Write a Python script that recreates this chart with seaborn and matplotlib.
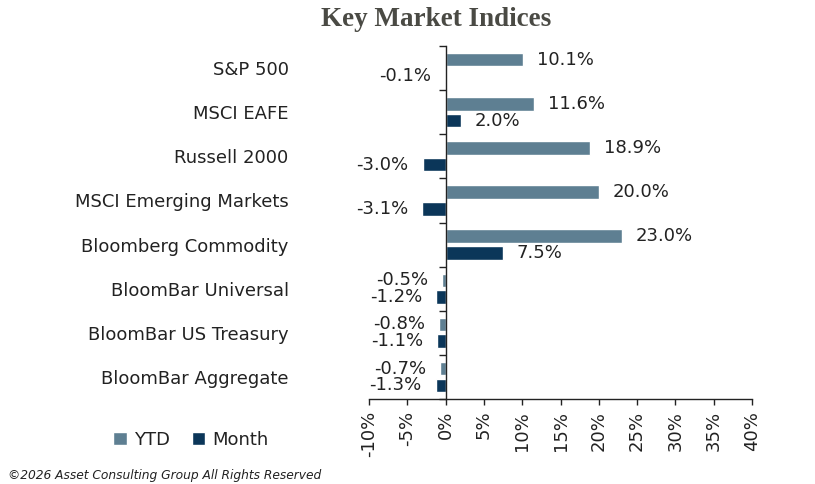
import matplotlib
matplotlib.use("Agg")
import matplotlib.pyplot as plt
import seaborn as sns
import pandas as pd
import numpy as np
from matplotlib.ticker import FuncFormatter, FixedLocator

categories = ["S&P 500", "MSCI EAFE", "Russell 2000", "MSCI Emerging Markets",
              "Bloomberg Commodity", "BloomBar Universal", "BloomBar US Treasury",
              "BloomBar Aggregate"]
ytd = [10.1, 11.6, 18.9, 20.0, 23.0, -0.5, -0.8, -0.7]
month = [-0.1, 2.0, -3.0, -3.1, 7.5, -1.2, -1.1, -1.3]
series_names = ["YTD", "Month"]
x_ticks = [-10, -5, 0, 5, 10, 15, 20, 25, 30, 35, 40]

df = pd.DataFrame({
    "Index": categories * 2,
    "Value": ytd + month,
    "Series": [series_names[0]] * len(categories) + [series_names[1]] * len(categories),
})

sns.set_theme(style="white")
plt.rcParams["font.family"] = ["DejaVu Sans"]

FS = 13
fig = plt.figure(figsize=(8.15, 4.84), dpi=100)
ax = fig.add_axes([369 / 815, 1 - 399 / 484, (752 - 369) / 815, (399 - 46) / 484])

palette = {"YTD": "#5e7f92", "Month": "#0b3659"}
sns.barplot(data=df, y="Index", x="Value", hue="Series", orient="h",
            palette=palette, width=0.76, gap=0.2, ax=ax, saturation=1)

for cont, vals in zip(ax.containers, [ytd, month]):
    ax.bar_label(cont, labels=[f"{v:.1f}%" for v in vals], padding=10,
                 fontsize=FS, color="#222222")

ax.set_xlim(-10, 40)
ax.set_ylim(len(categories) - 0.5, -0.5)
ax.xaxis.set_major_locator(FixedLocator(x_ticks))
ax.xaxis.set_major_formatter(FuncFormatter(lambda v, p: f"{v:.0f}%"))
ax.tick_params(axis="x", labelrotation=90, labelsize=FS, length=4.5, width=1,
               direction="out", colors="#222222", pad=4, bottom=True)
ax.set_xlabel("")
ax.set_ylabel("")

for s in ["top", "right"]:
    ax.spines[s].set_visible(False)
ax.spines["left"].set_position(("data", 0))
ax.spines["left"].set_color("#222222")
ax.spines["bottom"].set_color("#222222")
ax.spines["left"].set_linewidth(1)
ax.spines["bottom"].set_linewidth(1)

ax.set_yticks(np.arange(len(categories)))
ax.set_yticklabels(categories)
ax.tick_params(axis="y", which="major", length=0, pad=113, labelsize=FS,
               labelcolor="#222222")
ax.yaxis.set_minor_locator(FixedLocator(np.arange(-0.5, len(categories), 1.0)))
ax.tick_params(axis="y", which="minor", length=5, width=1, direction="out",
               color="#222222", left=True)

sns.move_legend(ax, loc="center", bbox_to_anchor=(191 / 815, 1 - 440 / 484),
                bbox_transform=fig.transFigure, ncol=2, frameon=False, title=None,
                fontsize=FS, handlelength=0.75, handleheight=0.75,
                handletextpad=0.4, columnspacing=1.2)
for t in ax.get_legend().get_texts():
    t.set_color("#222222")

fig.text(436 / 815, 1 - 20 / 484, "Key Market Indices", ha="center", va="center",
         fontsize=19.5, fontweight="bold", color="#4a4a44",
         family=["Liberation Serif"])
fig.text(8 / 815, 1 - 475 / 484, "©2026 Asset Consulting Group All Rights Reserved",
         ha="left", va="center", fontsize=8.8, style="italic", color="#222222")

fig.savefig("out.png", dpi=100)
